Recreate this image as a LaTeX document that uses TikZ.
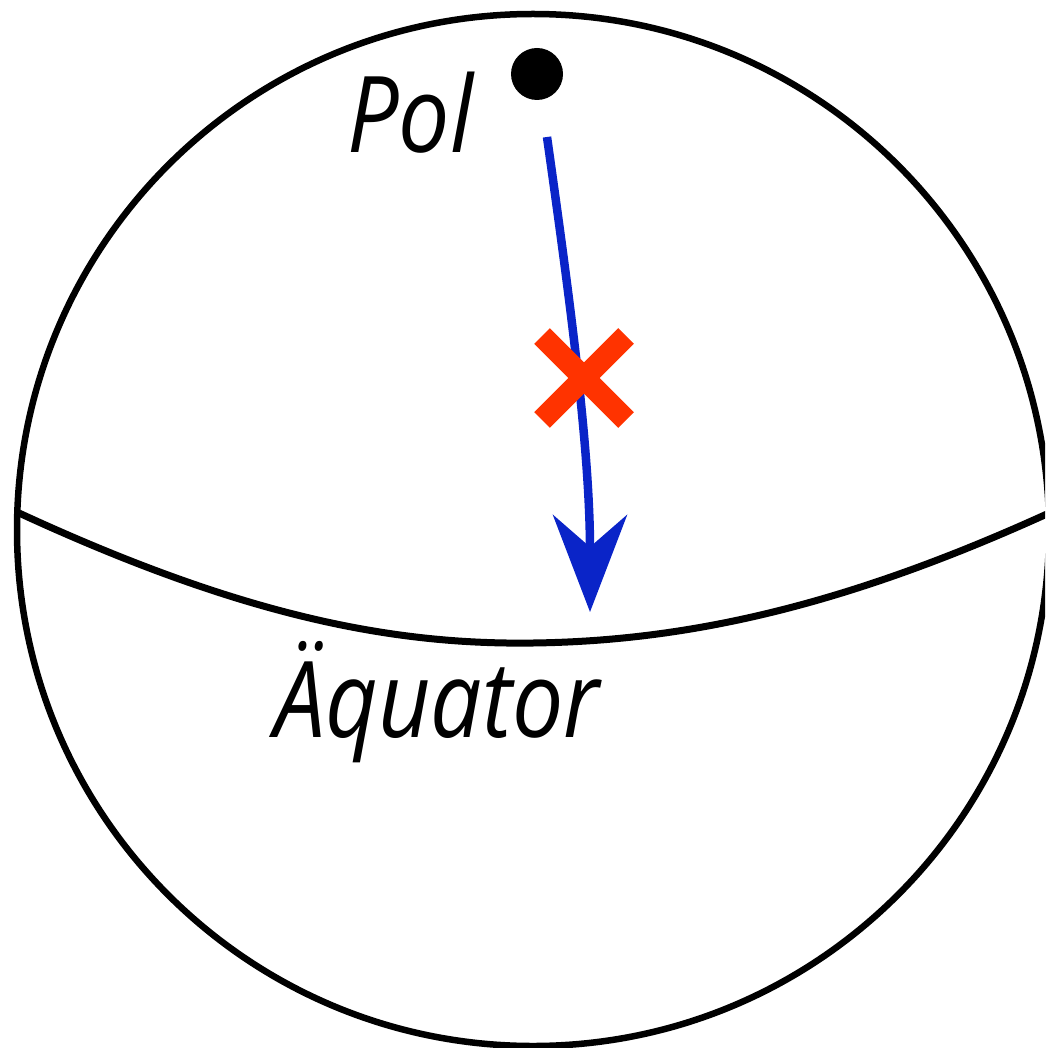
\documentclass[tikz,border=0pt]{standalone}
\usepackage{fontspec}
\setmainfont{Open Sans}
\usetikzlibrary{arrows.meta}
\definecolor{arrowblue}{HTML}{0A24C8}
\definecolor{xred}{HTML}{FF3300}
\tikzset{
  globe/.style={line width=6.5pt, draw=black},
  equatorline/.style={line width=7pt, draw=black},
  moveline/.style={line width=8.5pt, draw=arrowblue, -{Stealth[length=97pt, width=74pt, inset=32pt]}},
  crossline/.style={line width=22pt, draw=xred},
  label/.style={font=\itshape\fontsize{106}{110}\selectfont, inner sep=0pt, xscale=0.86, transform shape},
}
\begin{document}
\begin{tikzpicture}[x=1pt, y=-1pt]
  \useasboundingbox (0,0) rectangle (1045,1048);
  \clip (0,0) rectangle (1045,1048);
  \draw[globe] (533,530) circle[radius=516];
  \draw[equatorline] (19,513) .. controls (240,615) and (390,645) .. (533,643)
                     .. controls (690,641) and (850,605) .. (1060,508);
  \node[circle, fill=black, minimum size=52pt, inner sep=0pt] (pol) at (537,74) {};
  \node[label, anchor=base west] (poltext) at (347,153) {Pol};
  \node[label, anchor=base west] (eqtext) at (274,737) {Äquator};
  \coordinate (start) at (547,137);
  \coordinate (tip) at (590,612);
  \draw[moveline] (start) .. controls (570,300) and (590,450) .. (tip);
  \coordinate (xc) at (584,378);
  \draw[crossline] ([shift={(-42,-42)}]xc) -- ([shift={(42,42)}]xc);
  \draw[crossline] ([shift={(42,-42)}]xc) -- ([shift={(-42,42)}]xc);
\end{tikzpicture}
\end{document}
